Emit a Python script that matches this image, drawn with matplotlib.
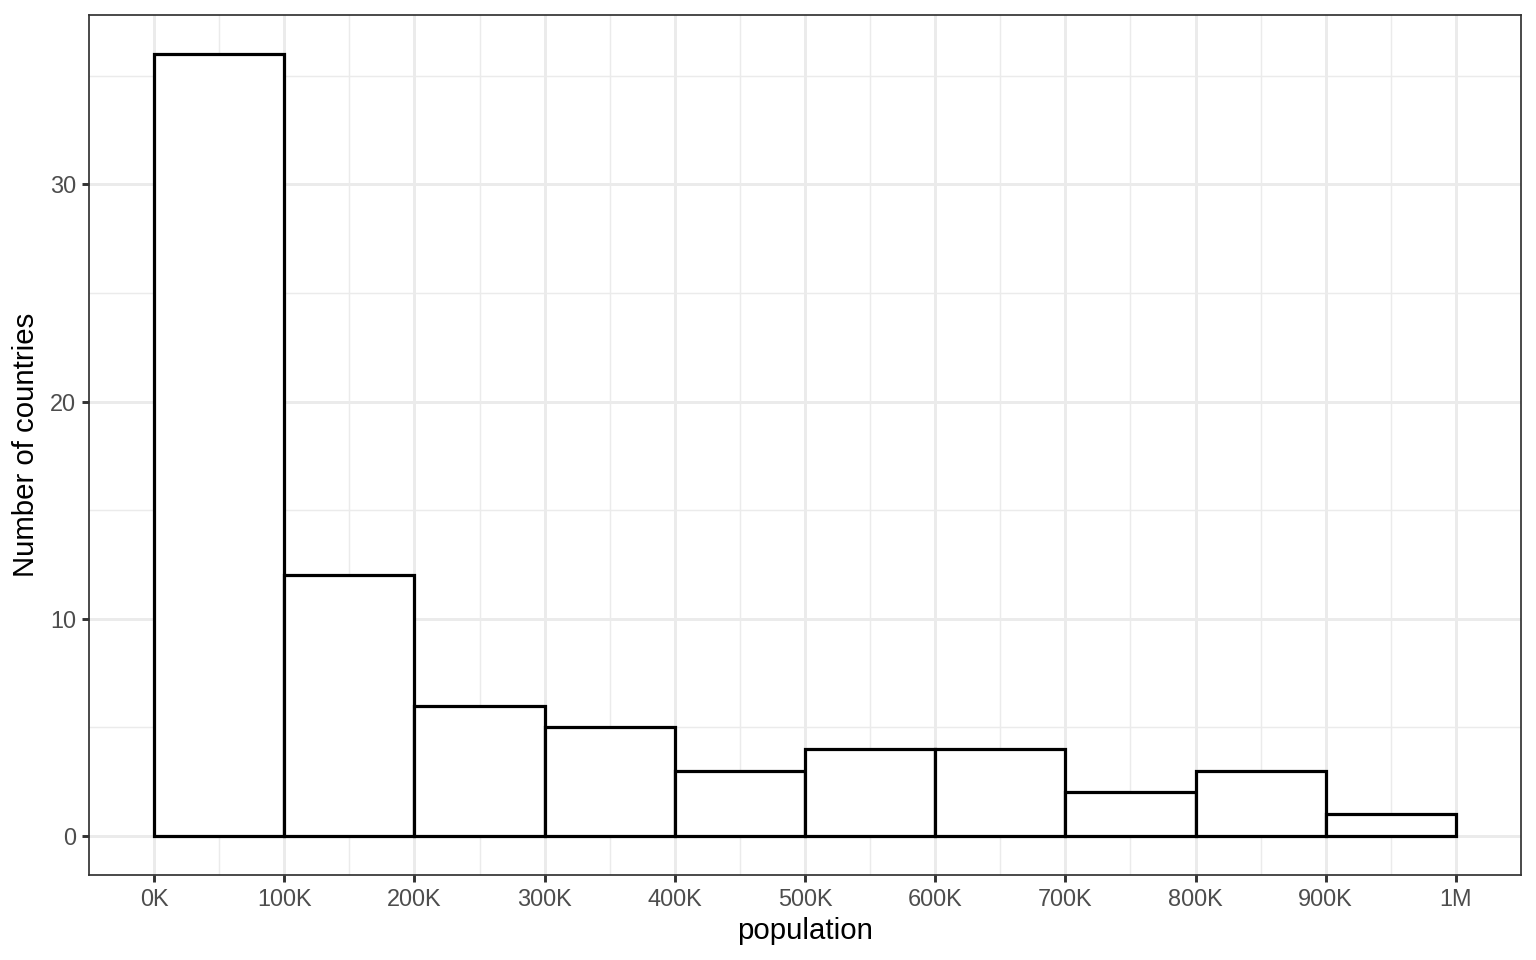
import matplotlib
matplotlib.use("Agg")
import matplotlib.pyplot as plt
import numpy as np

bin_edges = [0, 100000, 200000, 300000, 400000, 500000, 600000, 700000, 800000, 900000, 1000000]
counts = [36, 12, 6, 5, 3, 4, 4, 2, 3, 1]
x_ticks = [0, 100000, 200000, 300000, 400000, 500000, 600000, 700000, 800000, 900000, 1000000]
x_labels = ["0K", "100K", "200K", "300K", "400K", "500K", "600K", "700K", "800K", "900K", "1M"]
y_ticks = [0, 10, 20, 30]
x_label = "population"
y_label = "Number of countries"

plt.rcParams['font.family'] = ['Liberation Sans', 'DejaVu Sans']
fig = plt.figure(figsize=(16, 10), dpi=96)
ax = fig.add_axes([89/1536, 1-875/960, (1521-89)/1536, (875-15)/960])

lefts = np.array(bin_edges[:-1])
widths = np.diff(bin_edges)
ax.bar(lefts, counts, width=widths, align='edge', facecolor='white',
       edgecolor='black', linewidth=2.4, zorder=3)

xr = bin_edges[-1] - bin_edges[0]
ax.set_xlim(bin_edges[0] - 0.05*xr, bin_edges[-1] + 0.05*xr)
ymax = max(counts)
ax.set_ylim(-0.05*ymax, ymax*1.05)

ax.set_xticks(x_ticks)
ax.set_xticklabels(x_labels)
ax.set_xticks([50000 + 100000*i for i in range(10)], minor=True)
ax.set_yticks(y_ticks)
ax.set_yticks([5, 15, 25, 35], minor=True)

ax.grid(which='major', color='#EBEBEB', linewidth=2.2, zorder=0)
ax.grid(which='minor', color='#EBEBEB', linewidth=1.1, zorder=0)
ax.set_axisbelow(True)

ax.tick_params(which='major', length=5.5, width=2.2, color='#333333',
               labelsize=17.6, labelcolor='#4D4D4D', pad=4)
ax.tick_params(which='minor', length=0)
for s in ax.spines.values():
    s.set_color('#333333')
    s.set_linewidth(1.3)

ax.set_xlabel(x_label, fontsize=22, labelpad=5)
ax.set_ylabel(y_label, fontsize=22, labelpad=8)

fig.savefig("out.png", dpi=96, facecolor='white')
